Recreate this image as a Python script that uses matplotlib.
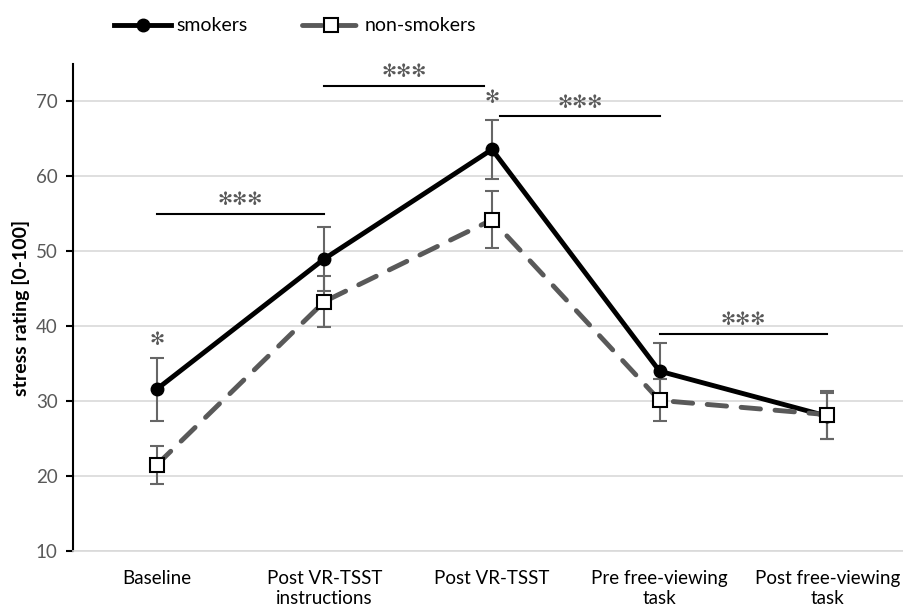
import matplotlib.pyplot as plt
import numpy as np

plt.rcParams['font.family'] = ['Lato', 'DejaVu Sans']

categories = ["Baseline", "Post VR-TSST\ninstructions", "Post VR-TSST",
              "Pre free-viewing\ntask", "Post free-viewing\ntask"]
smokers = [31.6, 49.0, 63.6, 34.0, 28.0]
smokers_err = [4.2, 4.3, 3.9, 3.8, 3.1]
nonsmokers = [21.5, 43.3, 54.2, 30.1, 28.2]
nonsmokers_err = [2.5, 3.4, 3.8, 2.8, 3.2]

# significance bars: (x start, x end, height)
sig_bars = [(0.0, 1.0, 55.0), (1.0, 1.95, 72.1), (2.05, 3.0, 68.0), (3.0, 4.0, 39.0)]
# single stars above points: (x, height)
sig_stars = [(0, 37.0), (2, 69.2)]

STAR = "\u273B"


def main() -> None:
    fig = plt.figure(figsize=(9.04, 6.12), dpi=100)
    ax = fig.add_axes([73 / 904, 61 / 612, 838 / 904, 487 / 612])
    x = np.arange(len(categories))

    ax.errorbar(x, smokers, yerr=smokers_err, fmt="none", ecolor="#666666",
                elinewidth=1.5, capsize=5, capthick=1.5, zorder=2)
    ax.errorbar(x, nonsmokers, yerr=nonsmokers_err, fmt="none", ecolor="#666666",
                elinewidth=1.5, capsize=5, capthick=1.5, zorder=2)
    l1, = ax.plot(x, smokers, color="black", lw=3.5, marker="o", ms=9,
                  mfc="black", mec="black", zorder=3, label="smokers")
    l2, = ax.plot(x, nonsmokers, color="#595959", lw=3.5, ls=(0, (4, 3)),
                  dash_capstyle="round", marker="s", ms=10, mfc="white",
                  mec="black", mew=1.5, zorder=4, label="non-smokers")

    for x0, x1, h in sig_bars:
        ax.plot([x0, x1], [h, h], color="black", lw=1.5, zorder=1)
        ax.text((x0 + x1) / 2, h + 0.6, STAR * 3, ha="center", va="bottom",
                fontsize=13, color="#595959", family="DejaVu Sans")
    for xs, h in sig_stars:
        ax.text(xs, h, STAR, ha="center", va="bottom", fontsize=13,
                color="#595959", family="DejaVu Sans")

    ax.set_xlim(-0.5, 4.5)
    ax.set_ylim(10, 75)
    ax.set_yticks(range(10, 71, 10))
    ax.yaxis.grid(True, color="#d9d9d9", lw=1.2)
    ax.set_axisbelow(True)
    ax.set_xticks(x)
    ax.set_xticklabels(categories, fontsize=13.5)
    ax.tick_params(axis="x", length=0, pad=14)
    ax.tick_params(axis="y", labelsize=13.5, labelcolor="#595959", length=5,
                   width=1.5, pad=6)
    for s in ("top", "right"):
        ax.spines[s].set_visible(False)
    ax.spines["left"].set_linewidth(1.5)
    ax.spines["bottom"].set_color("#d9d9d9")
    ax.spines["bottom"].set_linewidth(1.2)
    ax.set_ylabel("stress rating [0-100]", fontsize=14, fontweight="bold",
                  labelpad=4)

    legend_handles = [l1, l2]
    fig.legend(handles=legend_handles, loc="upper left",
               bbox_to_anchor=(97 / 904, 1.0), ncol=2, frameon=False,
               fontsize=14, handlelength=2.9, columnspacing=2.8,
               handletextpad=0.3)

    fig.savefig("out.png", dpi=100)


if __name__ == "__main__":
    main()
